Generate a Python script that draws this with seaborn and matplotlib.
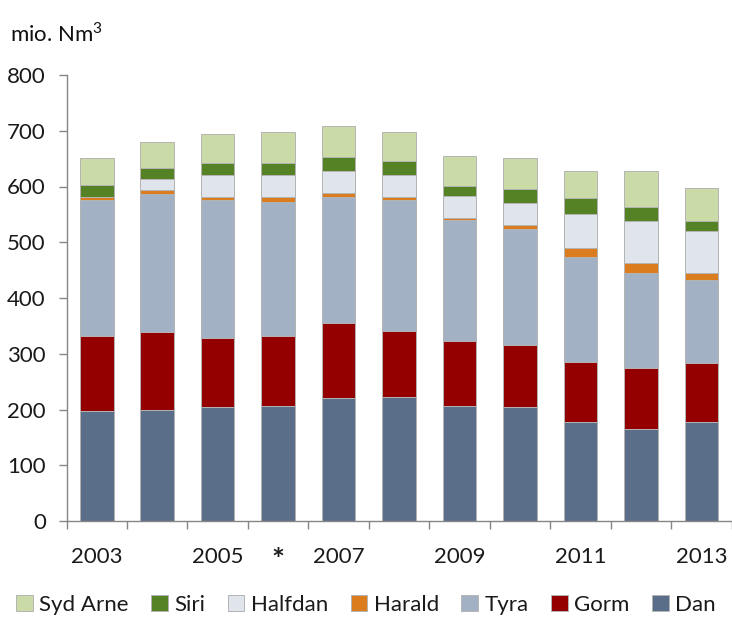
import matplotlib
matplotlib.use("Agg")
import matplotlib.pyplot as plt
from matplotlib.ticker import FixedLocator
import numpy as np
import pandas as pd
import seaborn as sns

# Gas production per field, million Nm3
years = ["2003", "2004", "2005", "2006", "2007", "2008", "2009", "2010", "2011", "2012", "2013"]
tick_labels = ["2003", "", "2005", "*", "2007", "", "2009", "", "2011", "", "2013"]

dan = [197, 200, 205, 207, 221, 223, 207, 205, 177, 165, 177]
gorm = [134, 139, 124, 124, 134, 118, 115, 110, 108, 109, 106]
tyra = [244, 248, 246, 241, 226, 234, 218, 209, 188, 170, 149]
harald = [6, 7, 6, 10, 7, 7, 4, 7, 16, 18, 12]
halfdan = [0, 20, 40, 39, 39, 39, 39, 39, 62, 76, 77]
siri = [21, 19, 21, 22, 26, 25, 18, 26, 28, 25, 17]
syd_arne = [49, 46, 52, 54, 56, 51, 54, 55, 48, 64, 60]

fields = ["Dan", "Gorm", "Tyra", "Harald", "Halfdan", "Siri", "Syd Arne"]
series = [dan, gorm, tyra, harald, halfdan, siri, syd_arne]
colors = {
    "Dan": "#5A6E8A",
    "Gorm": "#940000",
    "Tyra": "#A3B1C4",
    "Harald": "#DB7D1E",
    "Halfdan": "#E0E5EC",
    "Siri": "#548224",
    "Syd Arne": "#CBDBA8",
}

sns.set_theme(style="white")
plt.rcParams["font.family"] = ["Lato", "DejaVu Sans"]
plt.rcParams["mathtext.fontset"] = "custom"
plt.rcParams["mathtext.rm"] = "Lato"

df = pd.DataFrame({"year": years})
cum = np.zeros(len(years))
for name, vals in zip(fields, series):
    cum = cum + np.array(vals, dtype=float)
    df[name] = cum.copy()

fig = plt.figure(figsize=(7.32, 6.17), dpi=100)
ax = fig.add_axes([66.6 / 732, 1 - 521 / 617, (731.5 - 66.6) / 732, (521 - 75) / 617])

# stacked bars: draw cumulative totals from the top layer down
for name in reversed(fields):
    sns.barplot(data=df, x="year", y=name, order=years, color=colors[name],
                width=0.555, edgecolor="#B4B4B4", linewidth=0.7,
                saturation=1, ax=ax, label=name)

ax.set_xlim(-0.5, len(years) - 0.5)
ax.set_ylim(0, 800)
ax.set_yticks(np.arange(0, 801, 100))
ax.set_xlabel("")
ax.set_ylabel("")

for side in ["top", "right"]:
    ax.spines[side].set_visible(False)
for side in ["left", "bottom"]:
    ax.spines[side].set_color("#868686")
    ax.spines[side].set_linewidth(1.0)

ax.tick_params(axis="y", which="major", direction="out", length=6, width=1.0,
               color="#868686", labelsize=16, labelcolor="#1a1a1a", pad=9, left=True)
ax.set_xticks(range(len(years)))
ax.set_xticklabels(tick_labels)
ax.tick_params(axis="x", which="major", length=0, labelsize=16,
               labelcolor="#1a1a1a", pad=19)
for lbl in ax.get_xticklabels():
    if lbl.get_text() == "*":
        lbl.set_fontsize(22)
        lbl.set_fontweight("bold")
ax.xaxis.set_minor_locator(FixedLocator(np.arange(-0.5, len(years), 1.0)))
ax.tick_params(axis="x", which="minor", direction="out", length=6, width=1.0,
               color="#868686", bottom=True)

fig.text(10 / 732, 1 - 34 / 617, r"mio. Nm$^{3}$", fontsize=16, color="#111111",
         va="center", ha="left")

handles, labels = ax.get_legend_handles_labels()
if ax.get_legend() is not None:
    ax.get_legend().remove()
order = ["Syd Arne", "Siri", "Halfdan", "Harald", "Tyra", "Gorm", "Dan"]
hmap = dict(zip(labels, handles))
fig.legend([hmap[k] for k in order], order, loc="center", ncol=7,
           bbox_to_anchor=(0.5, 1 - 605 / 617), frameon=False, fontsize=16,
           handlelength=0.75, handleheight=0.75, handletextpad=0.3,
           columnspacing=1.0, labelcolor="#1a1a1a")

fig.savefig("out.png", dpi=100, facecolor="white")
